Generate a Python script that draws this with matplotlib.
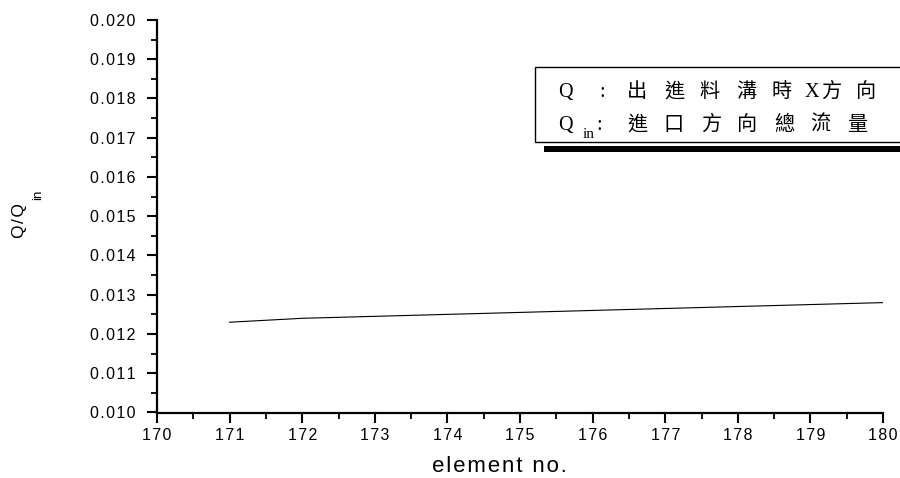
import matplotlib
matplotlib.use("Agg")
import matplotlib.pyplot as plt
from matplotlib.ticker import MultipleLocator, FuncFormatter
from matplotlib.patches import Rectangle

# ---- data ----
element_no = [171, 172, 173, 174, 175, 176, 177, 178, 179, 180]
q_ratio = [0.01230, 0.01240, 0.01245, 0.01250, 0.01255, 0.01260,
           0.01265, 0.01270, 0.01275, 0.01280]
x_range = [170, 180]
y_range = [0.010, 0.020]
legend_line1 = ["Q", ":", "出", "進", "料", "溝", "時", "X", "方", "向"]
legend_line2 = ["Q", ":", "進", "口", "方", "向", "總", "流", "量"]

W, H = 900, 478
fig = plt.figure(figsize=(W / 100, H / 100), dpi=100)
L, R, T, B = 157, 883, 20, 412.5
ax = fig.add_axes([L / W, 1 - B / H, (R - L) / W, (B - T) / H])

ax.plot(element_no, q_ratio, color="black", lw=0.8)
ax.set_xlim(*x_range)
ax.set_ylim(*y_range)

for s in ["top", "right"]:
    ax.spines[s].set_visible(False)
for s in ["left", "bottom"]:
    ax.spines[s].set_linewidth(1.6)

ax.xaxis.set_major_locator(MultipleLocator(1))
ax.xaxis.set_minor_locator(MultipleLocator(0.5))
ax.yaxis.set_major_locator(MultipleLocator(0.001))
ax.yaxis.set_minor_locator(MultipleLocator(0.0005))

HS = "\u200a"
ax.xaxis.set_major_formatter(FuncFormatter(lambda v, p: HS.join(f"{v:.0f}")))
ax.yaxis.set_major_formatter(FuncFormatter(lambda v, p: HS.join(f"{v:.3f}")))

ax.tick_params(which="major", direction="out", length=7.5, width=1.5,
               labelsize=11.5, colors="black")
ax.tick_params(which="minor", direction="out", length=4, width=1.3)
ax.tick_params(axis="y", which="major", pad=8)
ax.tick_params(axis="x", which="major", pad=4)
for lab in ax.get_xticklabels() + ax.get_yticklabels():
    lab.set_fontfamily("Liberation Sans")

ax.set_xlabel(HS.join("element no."), fontsize=16, family="Liberation Sans")
ax.xaxis.set_label_coords(0.472, -0.112)
ax.set_ylabel(HS.join("Q/Q"), fontsize=12.5, family="Liberation Sans",
              va="center")
ax.yaxis.set_label_coords((19 - L) / (R - L), (B - 221) / (B - T))
ax.text((38 - L) / (R - L), (B - 195) / (B - T), "in", rotation=90,
        ha="center", va="center", fontsize=9.5, family="Liberation Sans",
        transform=ax.transAxes, clip_on=False)


def fx(x):
    return x / W


def fy(y):
    return 1 - y / H


# legend box with shadow
shadow = Rectangle((fx(544), fy(152.5)), fx(400), (152.5 - 146.5) / H,
                   transform=fig.transFigure, facecolor="black",
                   edgecolor="none", zorder=5)
box = Rectangle((fx(535), fy(141.5)), fx(400), (141.5 - 67.5) / H,
                transform=fig.transFigure, facecolor="white",
                edgecolor="black", lw=1.0, zorder=6)
fig.add_artist(shadow)
fig.add_artist(box)

fam = ["Liberation Serif", "Noto Sans CJK TC"]
fs = 14.5
xs1 = [565, 602, 637, 674, 709, 746, 782, 812, 831, 866]
xs2 = [565, 599, 637, 674, 711, 747, 784, 820, 857]
for ch, x in zip(legend_line1, xs1):
    fig.text(fx(x), fy(97), ch, ha="center", va="baseline", fontsize=fs,
             family=fam, zorder=7)
for ch, x in zip(legend_line2, xs2):
    fig.text(fx(x), fy(130), ch, ha="center", va="baseline", fontsize=fs,
             family=fam, zorder=7)
fig.text(fx(589), fy(138), "in", ha="center", va="baseline", fontsize=11,
         family=fam, zorder=7)

fig.savefig("out.png", dpi=100)
